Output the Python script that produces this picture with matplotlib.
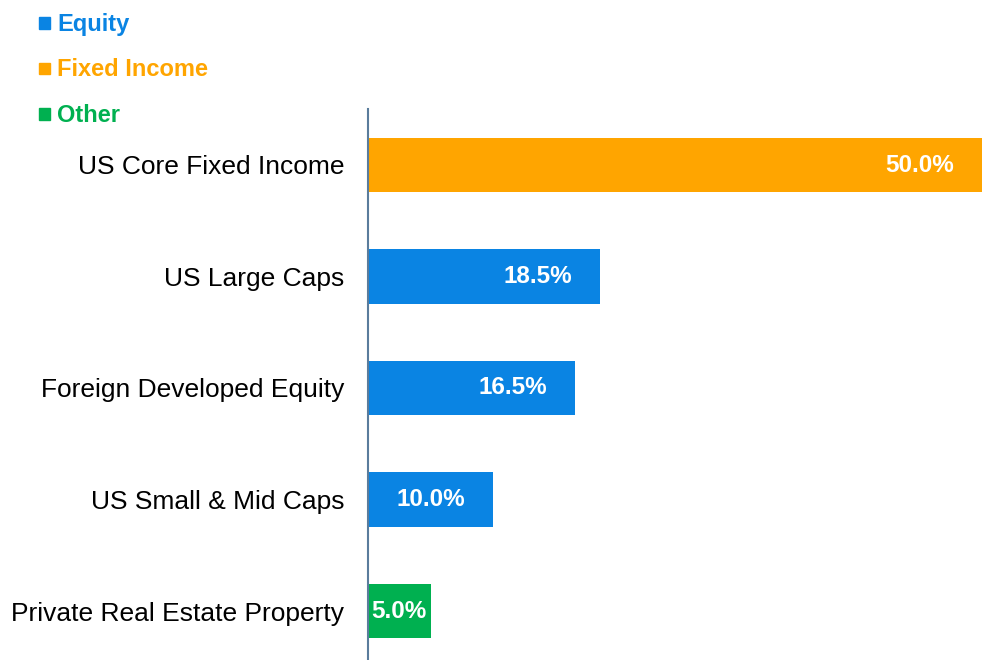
import matplotlib.pyplot as plt
from matplotlib.patches import Rectangle

plt.rcParams['font.family'] = ['Liberation Sans', 'DejaVu Sans']

categories = [
    "US Core Fixed Income",
    "US Large Caps",
    "Foreign Developed Equity",
    "US Small & Mid Caps",
    "Private Real Estate Property",
]
weights = [50.0, 18.5, 16.5, 10.0, 5.0]
groups = ["Fixed Income", "Equity", "Equity", "Equity", "Other"]

group_names = ["Equity", "Fixed Income", "Other"]
group_colors = {"Equity": "#0A84E3", "Fixed Income": "#FFA500", "Other": "#00B050"}

W, H = 982, 660
fig = plt.figure(figsize=(W / 100, H / 100), dpi=100)
# plot area runs a little past the right and bottom edges, like the original
ax = fig.add_axes([368 / W, -6.75 / H, 627 / W, 557.5 / H])

ypos = list(range(len(categories)))
colors = [group_colors[g] for g in groups]
bars = ax.barh(ypos, weights, height=0.493, color=colors)

ax.set_xlim(0, 50)
ax.set_ylim(len(categories) - 0.5, -0.5)
ax.set_yticks(ypos)
ax.set_yticklabels(categories, fontsize=19)
ax.tick_params(axis="y", length=0, pad=17)
ax.set_xticks([])
for side in ["top", "right", "bottom"]:
    ax.spines[side].set_visible(False)
ax.spines["left"].set_color("#5A7C9C")
ax.spines["left"].set_linewidth(1.5)

# value labels: inside end of the visible part of each bar
fig.canvas.draw()
to_px = ax.transData
for rect, w in zip(bars, weights):
    yc = rect.get_y() + rect.get_height() / 2
    x0_px = to_px.transform((0, yc))[0]
    x1_px = to_px.transform((w, yc))[0]
    vis_end = min(x1_px, W)
    if vis_end - x0_px < 100:
        ax.text(w / 2, yc, f"{w:.1f}%", ha="center", va="center",
                color="white", fontsize=17.5, fontweight="bold")
    else:
        ax.annotate(f"{w:.1f}%", xy=(w, yc), xytext=(vis_end - x1_px - 28, 0),
                    textcoords="offset pixels", ha="right", va="center",
                    color="white", fontsize=17.5, fontweight="bold",
                    annotation_clip=False)

# legend as coloured text
for i, name in enumerate(group_names):
    y = 1 - (23 + 45.5 * i) / H
    fig.patches.append(Rectangle((39 / W, y - 5.5 / H), 11 / W, 11 / H,
                                 transform=fig.transFigure, color=group_colors[name]))
    fig.text(57 / W, y - 1.5 / H, name, color=group_colors[name], fontsize=17,
             fontweight="bold", va="center", ha="left")

fig.savefig("out.png", dpi=100)
